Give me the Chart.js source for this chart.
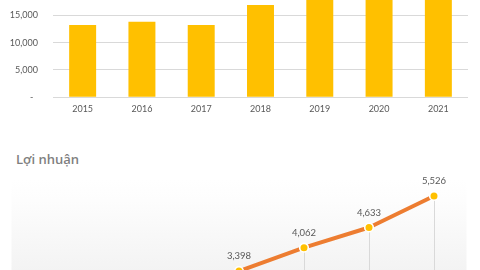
<!DOCTYPE html>
<html>
<head>
<meta charset="utf-8">
<script src="https://cdn.jsdelivr.net/npm/chart.js@4.4.0/dist/chart.umd.min.js"></script>
<style>
  html, body { margin: 0; padding: 0; background: #fff; }
  body { width: 480px; height: 270px; overflow: hidden; position: relative; }
  #revenueChart { position: absolute; left: 0; top: -50px; }
  #profitChart { position: absolute; left: 0; top: 170px; }
  #profitTitle {
    position: absolute; left: 16px; top: 150px;
    font: 600 13px "Open Sans"; color: #7f7f7f;
  }
</style>
</head>
<body>
<canvas id="revenueChart" width="480" height="170"></canvas>
<div id="profitTitle">Lợi nhuận</div>
<canvas id="profitChart" width="480" height="230"></canvas>
<script>
const years = ["2015", "2016", "2017", "2018", "2019", "2020", "2021"];
// top chart (bars of 2019-2021 run off the top of the picture, values estimated)
const revenue = [13200, 13800, 13200, 16900, 19500, 21000, 23000];
const revenueMax = 25000;
const revenueStep = 5000;
// bottom chart (2015-2017 are below the visible area, estimated)
const profit = [2150, 2480, 2900, 3398, 4062, 4633, 5526];
const profitMax = 6000;

const textColor = "#595959";
const gridColor = "#d9d9d9";
Chart.defaults.font.family = "Lato";
Chart.defaults.font.size = 9;
Chart.defaults.color = textColor;

new Chart(document.getElementById("revenueChart"), {
  type: "bar",
  data: {
    labels: years,
    datasets: [
      {
        data: revenue,
        backgroundColor: "#FFC000",
        barPercentage: 0.455,
        categoryPercentage: 1,
      },
    ],
  },
  options: {
    responsive: false,
    animation: false,
    layout: { padding: { left: 0, right: 12, top: 10.6, bottom: 0 } },
    plugins: { legend: { display: false }, tooltip: { enabled: false } },
    scales: {
      x: {
        grid: { display: false, drawTicks: false },
        border: { display: false },
        ticks: { padding: 6, color: textColor },
        afterFit: (s) => { s.height = 22.7; },
      },
      y: {
        min: 0,
        max: revenueMax,
        // invisible tick marks push the labels away from the plot
        grid: { color: gridColor, drawTicks: true, tickLength: 15, tickColor: "rgba(0,0,0,0)" },
        border: { display: false },
        ticks: {
          stepSize: revenueStep,
          padding: 0,
          color: textColor,
          callback: (v) => (v === 0 ? "-  " : v.toLocaleString("en-US")),
        },
        afterFit: (s) => { s.width = 53; },
      },
    },
  },
});

const profitDecor = {
  id: "profitDecor",
  beforeDraw(chart) {
    const { ctx, chartArea: a } = chart;
    const g = ctx.createLinearGradient(0, a.top, 0, a.bottom);
    g.addColorStop(0, "#ffffff");
    g.addColorStop(0.1, "#fdfdfd");
    g.addColorStop(1, "#e2e2e2");
    ctx.save();
    ctx.fillStyle = g;
    ctx.fillRect(a.left, a.top, a.right - a.left, a.bottom - a.top);
    ctx.restore();
  },
  beforeDatasetsDraw(chart) {
    const { ctx, chartArea: a } = chart;
    ctx.save();
    ctx.strokeStyle = gridColor;
    ctx.lineWidth = 1;
    chart.getDatasetMeta(0).data.forEach((p) => {
      const x = Math.round(p.x) + 0.5;
      ctx.beginPath();
      ctx.moveTo(x, p.y);
      ctx.lineTo(x, a.bottom);
      ctx.stroke();
    });
    ctx.restore();
  },
  afterDatasetsDraw(chart) {
    const { ctx } = chart;
    ctx.save();
    ctx.font = "9.5px Lato";
    ctx.fillStyle = textColor;
    ctx.textAlign = "center";
    ctx.textBaseline = "middle";
    chart.getDatasetMeta(0).data.forEach((p, i) => {
      ctx.fillText(profit[i].toLocaleString("en-US"), p.x, p.y - 15);
    });
    ctx.restore();
  },
};

new Chart(document.getElementById("profitChart"), {
  type: "line",
  data: {
    labels: years,
    datasets: [
      {
        data: profit,
        borderColor: "#ED7D31",
        borderWidth: 4,
        borderCapStyle: "round",
        borderJoinStyle: "round",
        tension: 0,
        pointRadius: 4.3,
        pointBorderWidth: 1.6,
        pointBackgroundColor: "#FFC000",
        pointBorderColor: "#ffffff",
      },
    ],
  },
  options: {
    responsive: false,
    animation: false,
    layout: { padding: { left: 11.5, right: 13.5, top: 9.2, bottom: 8.9 } },
    plugins: { legend: { display: false }, tooltip: { enabled: false } },
    scales: {
      x: { display: false, offset: true },
      y: { display: false, min: 0, max: profitMax },
    },
  },
  plugins: [profitDecor],
});
</script>
</body>
</html>
